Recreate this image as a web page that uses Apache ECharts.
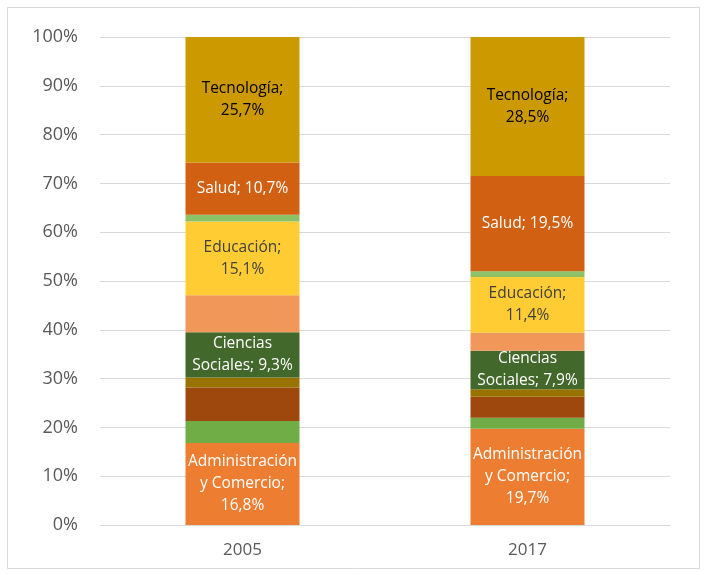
<!DOCTYPE html>
<html>
<head>
<meta charset="utf-8">
<script src="https://cdn.jsdelivr.net/npm/echarts@6/dist/echarts.min.js"></script>
<style>
  html, body { margin: 0; padding: 0; background: #fff; }
  #chart { width: 707px; height: 575px; }
</style>
</head>
<body>
<div id="chart"></div>
<script>
// categorías y valores (%), de abajo hacia arriba
const years = ["2005", "2017"];
const administracion = [16.8, 19.7];
const verde = [4.5, 2.3];
const marron = [6.9, 4.3];
const oliva = [2.0, 1.5];
const cienciasSociales = [9.3, 7.9];
const naranjaClaro = [7.6, 3.7];
const educacion = [15.1, 11.4];
const verdeClaro = [1.4, 1.2];
const salud = [10.7, 19.5];
const tecnologia = [25.7, 28.5];
const yTicks = [0, 10, 20, 30, 40, 50, 60, 70, 80, 90, 100];

const pct = v => v.toFixed(1).replace(".", ",") + "%";
const font = "'Open Sans', sans-serif";

function serie(name, data, color, label) {
    return {
        name: name,
        type: "bar",
        stack: "total",
        barWidth: "40%",
        data: data,
        itemStyle: { color: color },
        label: label ? {
            show: true,
            position: "inside",
            color: label.color,
            fontSize: 15.5,
            fontFamily: font,
            lineHeight: 22,
            formatter: p => label.text.replace("{v}", pct(p.value))
        } : { show: false }
    };
}

const myChart = echarts.init(document.getElementById("chart"));
const option = {
    backgroundColor: "#fff",
    animation: false,
    graphic: [{
        type: "rect",
        shape: { x: 7.5, y: 7.5, width: 692, height: 561 },
        style: { fill: "none", stroke: "#d9d9d9", lineWidth: 1 },
        silent: true
    }],
    grid: { left: 100, right: 37, top: 37, bottom: 50 },
    xAxis: {
        type: "category",
        data: years,
        axisLine: { lineStyle: { color: "#d9d9d9" } },
        axisTick: { show: false },
        axisLabel: { color: "#595959", fontSize: 17, fontFamily: font, margin: 17 }
    },
    yAxis: {
        type: "value",
        min: 0,
        max: 100,
        interval: 10,
        axisLine: { show: false },
        axisTick: { show: false },
        splitLine: { lineStyle: { color: "#d9d9d9" } },
        axisLabel: {
            color: "#595959",
            fontSize: 18,
            fontFamily: font,
            margin: 22,
            formatter: v => (yTicks.includes(v) ? v + "%" : "")
        }
    },
    series: [
        serie("Administración y Comercio", administracion, "#ed7d31", { color: "#fff", text: "Administración\ny Comercio;\n{v}" }),
        serie("s2", verde, "#70ad47"),
        serie("s3", marron, "#9e480e"),
        serie("s4", oliva, "#997300"),
        serie("Ciencias Sociales", cienciasSociales, "#43682b", { color: "#fff", text: "Ciencias\nSociales; {v}" }),
        serie("s6", naranjaClaro, "#f1975a"),
        serie("Educación", educacion, "#ffcd33", { color: "#404040", text: "Educación;\n{v}" }),
        serie("s8", verdeClaro, "#8cc168"),
        serie("Salud", salud, "#d26013", { color: "#fff", text: "Salud; {v}" }),
        serie("Tecnología", tecnologia, "#cc9a00", { color: "#000", text: "Tecnología;\n{v}" })
    ]
};
option && myChart.setOption(option);
</script>
</body>
</html>
